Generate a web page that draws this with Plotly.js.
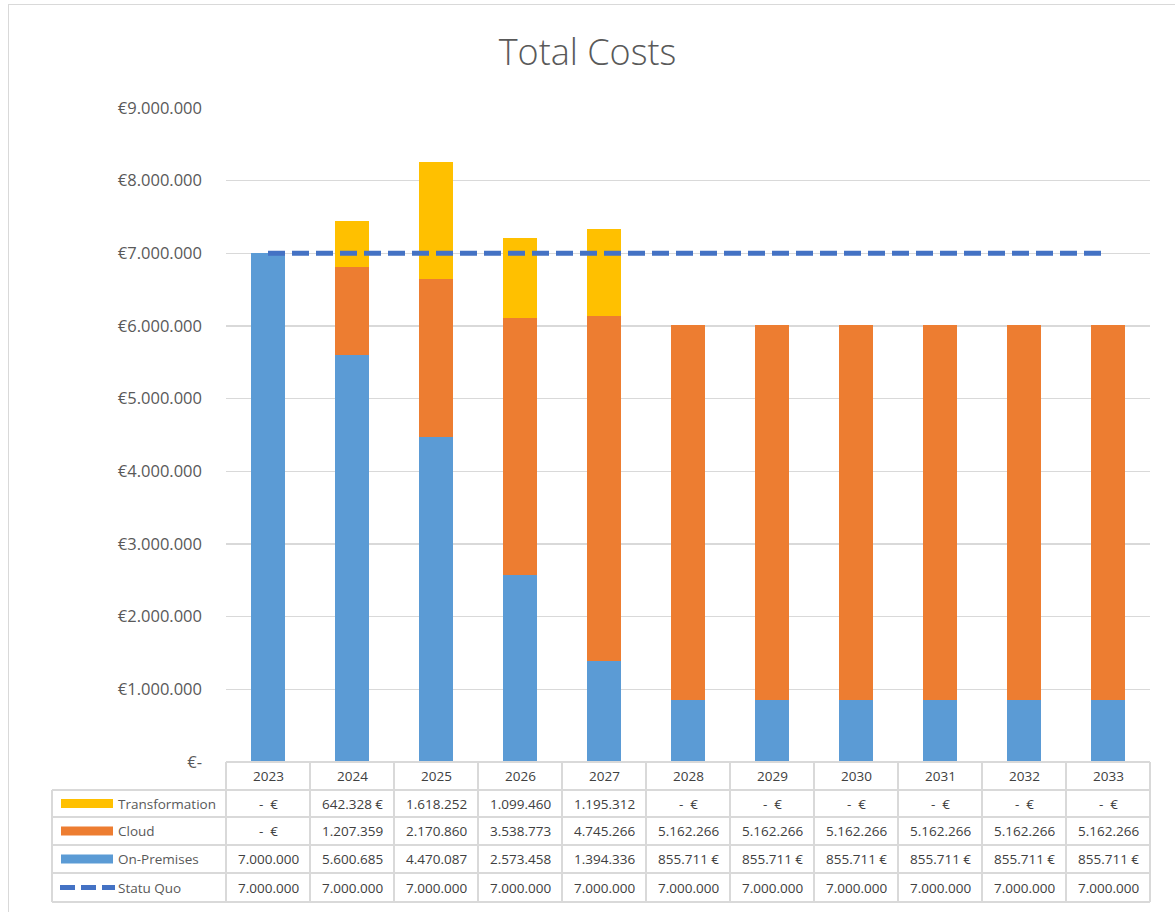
<!DOCTYPE html>
<html>
<head>
<meta charset="utf-8">
<script src="https://cdn.plot.ly/plotly-3.0.1.min.js"></script>
<style>
  body { margin: 0; background: #fff; }
  #wrap { position: relative; width: 1175px; height: 912px; overflow: hidden; }
  #chart { width: 1175px; height: 912px; }
  #frame { position: absolute; left: 8px; top: 4px; width: 1180px; height: 920px; border: 1px solid #D9D9D9; pointer-events: none; }
</style>
</head>
<body>
<div id="wrap"><div id="chart"></div><div id="frame"></div></div>
<script>
// ---- data ----
const years = ['2023','2024','2025','2026','2027','2028','2029','2030','2031','2032','2033'];
const transformation = [0, 642328, 1618252, 1099460, 1195312, 0, 0, 0, 0, 0, 0];
const cloud = [0, 1207359, 2170860, 3538773, 4745266, 5162266, 5162266, 5162266, 5162266, 5162266, 5162266];
const onPremises = [7000000, 5600685, 4470087, 2573458, 1394336, 855711, 855711, 855711, 855711, 855711, 855711];
const statuQuo = [7000000, 7000000, 7000000, 7000000, 7000000, 7000000, 7000000, 7000000, 7000000, 7000000, 7000000];
const seriesNames = ['Transformation', 'Cloud', 'On-Premises', 'Statu Quo'];
const yTickVals = [0, 1000000, 2000000, 3000000, 4000000, 5000000, 6000000, 7000000, 8000000, 9000000];
const yTickText = ['€-', '€1.000.000', '€2.000.000', '€3.000.000', '€4.000.000', '€5.000.000', '€6.000.000', '€7.000.000', '€8.000.000', '€9.000.000'];

// ---- style ----
const cTrans = '#FFC000', cCloud = '#ED7D31', cOnPrem = '#5B9BD5', cLine = '#4472C4';
const font = '"Open Sans", "Noto Sans", "Liberation Sans", sans-serif';
const textCol = '#595959';
const gridCol = '#D9D9D9';

// pixel layout of plot area
const W = 1175, H = 912;
const PL = 226, PR = 1150, PT = 108, PB = 762;
const pw = PR - PL, ph = PB - PT;
const px = v => (v - PL) / pw;
const py = v => (PB - v) / ph;

function fmt(v) {
  if (v === 0) return '-  €';
  const s = Math.round(v).toString().replace(/\B(?=(\d{3})+(?!\d))/g, '.');
  return v < 1000000 ? s + ' €' : s;
}

const traces = [
  { type: 'bar', x: years, y: onPremises, name: seriesNames[2], marker: { color: cOnPrem }, hoverinfo: 'skip' },
  { type: 'bar', x: years, y: cloud, name: seriesNames[1], marker: { color: cCloud }, hoverinfo: 'skip' },
  { type: 'bar', x: years, y: transformation, name: seriesNames[0], marker: { color: cTrans }, hoverinfo: 'skip' },
  { type: 'scatter', mode: 'lines', x: years, y: statuQuo, name: seriesNames[3],
    line: { color: cLine, width: 5, dash: '17px,7px' }, hoverinfo: 'skip' }
];

// ---- table ----
const rowEdges = [762, 790, 817, 845, 873, 902];
const tableLeft = 52;
const colW = pw / years.length;
const shapes = [];
const annotations = [];
const lineStyle = { color: gridCol, width: 2 };

rowEdges.forEach((e, i) => {
  shapes.push({ type: 'line', xref: 'paper', yref: 'paper',
    x0: px(i === 0 ? PL : tableLeft), x1: px(PR), y0: py(e), y1: py(e), line: lineStyle });
});
shapes.push({ type: 'line', xref: 'paper', yref: 'paper', x0: px(tableLeft), x1: px(tableLeft),
  y0: py(rowEdges[1]), y1: py(rowEdges[5]), line: lineStyle });
for (let i = 0; i <= years.length; i++) {
  const x = PL + i * colW;
  shapes.push({ type: 'line', xref: 'paper', yref: 'paper', x0: px(x), x1: px(x),
    y0: py(rowEdges[0]), y1: py(rowEdges[5]), line: lineStyle });
}
years.forEach((yr, i) => {
  annotations.push({ xref: 'paper', yref: 'paper', x: px(PL + (i + 0.5) * colW), y: py((rowEdges[0] + rowEdges[1]) / 2),
    text: yr, showarrow: false, xanchor: 'center', yanchor: 'middle', font: { family: font, size: 13.5, color: '#404040' } });
});
const rows = [
  { name: seriesNames[0], vals: transformation, color: cTrans, kind: 'box' },
  { name: seriesNames[1], vals: cloud, color: cCloud, kind: 'box' },
  { name: seriesNames[2], vals: onPremises, color: cOnPrem, kind: 'box' },
  { name: seriesNames[3], vals: statuQuo, color: cLine, kind: 'dash' }
];
rows.forEach((r, ri) => {
  const cy = (rowEdges[ri + 1] + rowEdges[ri + 2]) / 2;
  if (r.kind === 'box') {
    shapes.push({ type: 'rect', xref: 'paper', yref: 'paper', x0: px(61), x1: px(113),
      y0: py(cy - 4.5), y1: py(cy + 4.5), fillcolor: r.color, line: { width: 0 } });
  } else {
    shapes.push({ type: 'line', xref: 'paper', yref: 'paper', x0: px(60), x1: px(115),
      y0: py(cy), y1: py(cy), line: { color: r.color, width: 5, dash: '15px,6px' } });
  }
  annotations.push({ xref: 'paper', yref: 'paper', x: px(116), y: py(cy), text: r.name, showarrow: false,
    xanchor: 'left', yanchor: 'middle', font: { family: font, size: 13.5, color: textCol } });
  r.vals.forEach((v, i) => {
    annotations.push({ xref: 'paper', yref: 'paper', x: px(PL + (i + 0.5) * colW), y: py(cy), text: fmt(v),
      showarrow: false, xanchor: 'center', yanchor: 'middle', font: { family: font, size: 13.5, color: '#404040' } });
  });
});

const layout = {
  width: W, height: H,
  margin: { l: PL, r: W - PR, t: PT, b: H - PB, pad: 0 },
  paper_bgcolor: '#fff', plot_bgcolor: '#fff',
  title: { text: 'Total Costs', font: { family: font, size: 36, weight: 300, color: textCol }, x: 0.5, xanchor: 'center', y: 1 - 52 / H, yanchor: 'middle' },
  barmode: 'stack', bargap: 0.6,
  showlegend: false,
  xaxis: { type: 'category', showticklabels: false, showgrid: false, zeroline: false, showline: false, ticks: '', fixedrange: true },
  yaxis: { range: [0, 9000000], tickvals: yTickVals, ticktext: yTickText, showgrid: true, gridcolor: gridCol, gridwidth: 1.5,
    zeroline: false, showline: false, ticks: '', ticklabelstandoff: 23,
    tickfont: { family: font, size: 16.5, color: textCol }, fixedrange: true },
  shapes: shapes, annotations: annotations
};

Plotly.newPlot('chart', traces, layout, { displayModeBar: false, staticPlot: true });
</script>
</body>
</html>
